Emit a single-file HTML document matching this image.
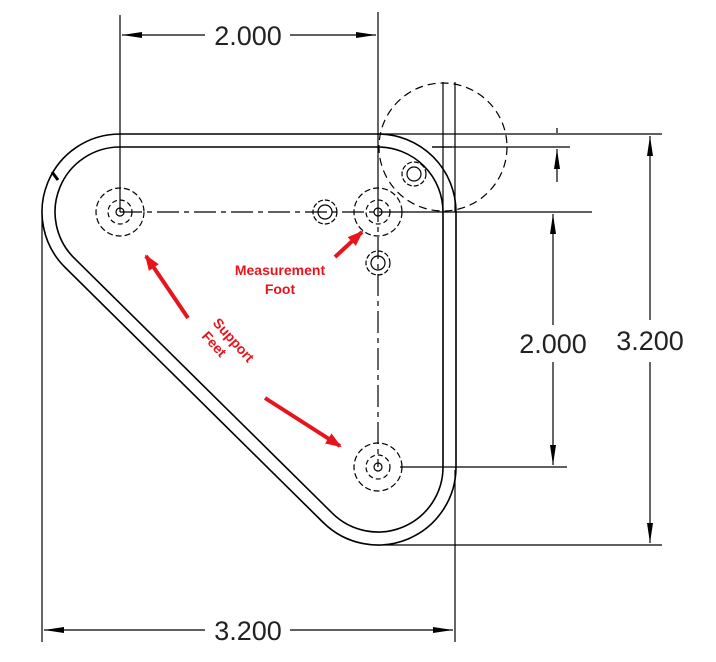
<!DOCTYPE html>
<html><head><style>body{margin:0;background:#fff}svg{display:block}</style></head><body>
<svg width="716" height="662" viewBox="0 0 716 662" xmlns="http://www.w3.org/2000/svg">
<defs>
<marker id="a" viewBox="0 0 20 8" refX="20" refY="4" markerWidth="20" markerHeight="8" markerUnits="userSpaceOnUse" orient="auto"><path d="M0,1 L20,4 L0,7 z" fill="#000"/></marker>
<marker id="r" viewBox="0 0 16 12" refX="14" refY="6" markerWidth="16" markerHeight="12" markerUnits="userSpaceOnUse" orient="auto"><path d="M0,0 L16,6 L0,12 z" fill="#e8141b"/></marker>
</defs>
<g fill="none" stroke="#000" stroke-width="1.6">
<!-- outer -->
<path d="M120,134 L378,134 A78,78 0 0 1 456,212 L456,467 A78,78 0 0 1 323.2,522.5 L65.2,267.5 A78,78 0 0 1 120,134 Z"/>
<!-- inner -->
<path d="M120,147 L378,147 A65,65 0 0 1 443,212 L443,467 A65,65 0 0 1 332.3,513.2 L74.3,258.2 A65,65 0 0 1 120,147 Z"/>
</g>
<g fill="none" stroke="#000" stroke-width="1.2">
<!-- extension lines -->
<line x1="120" y1="15" x2="120" y2="212"/>
<line x1="378" y1="12" x2="378" y2="200"/>
<line x1="42" y1="215" x2="42" y2="642"/>
<line x1="455" y1="470" x2="455" y2="642"/>
<line x1="378" y1="134" x2="662" y2="134"/>
<line x1="385" y1="545" x2="662" y2="545"/>
<line x1="432" y1="147" x2="570" y2="147"/>
<line x1="400" y1="212" x2="592" y2="212"/>
<line x1="400" y1="467" x2="567" y2="467"/>
<!-- dims -->
<line x1="205" y1="35" x2="122" y2="35" marker-end="url(#a)"/>
<line x1="290" y1="35" x2="376" y2="35" marker-end="url(#a)"/>
<line x1="205" y1="630" x2="44" y2="630" marker-end="url(#a)"/>
<line x1="290" y1="630" x2="453" y2="630" marker-end="url(#a)"/>
<line x1="650" y1="320" x2="650" y2="136" marker-end="url(#a)"/>
<line x1="650" y1="362" x2="650" y2="543" marker-end="url(#a)"/>
<line x1="553" y1="325" x2="553" y2="214" marker-end="url(#a)"/>
<line x1="553" y1="362" x2="553" y2="465" marker-end="url(#a)"/>
<line x1="557" y1="182" x2="557" y2="149" marker-end="url(#a)"/>
<line x1="557" y1="128" x2="557" y2="133"/>
<!-- centerlines -->
<line x1="120" y1="212" x2="400" y2="212" stroke-dasharray="22,5,5,5"/>
<line x1="378" y1="200" x2="378" y2="467" stroke-dasharray="22,5,5,5"/>
<line x1="443" y1="82" x2="443" y2="212"/>
<line x1="455" y1="82" x2="455" y2="212"/>
<line x1="432" y1="147" x2="452" y2="147"/>
<!-- big dashed circle -->
<circle cx="443" cy="147" r="64" stroke-dasharray="8,5"/>
<!-- feet -->
<circle cx="120" cy="212" r="24" stroke-dasharray="6,3"/>
<circle cx="120" cy="212" r="12" stroke-dasharray="5,3"/>
<circle cx="120" cy="212" r="4"/>
<circle cx="378" cy="212" r="24" stroke-dasharray="6,3"/>
<circle cx="378" cy="212" r="12" stroke-dasharray="5,3"/>
<circle cx="378" cy="212" r="4"/>
<circle cx="378" cy="467" r="24" stroke-dasharray="6,3"/>
<circle cx="378" cy="467" r="12" stroke-dasharray="5,3"/>
<circle cx="378" cy="467" r="4"/>
<circle cx="325" cy="212" r="12" stroke-dasharray="5,2"/>
<circle cx="325" cy="212" r="7"/>
<circle cx="378" cy="263" r="12" stroke-dasharray="5,2"/>
<circle cx="378" cy="263" r="7"/>
<circle cx="414" cy="174" r="12" stroke-dasharray="5,2"/>
<circle cx="414" cy="174" r="7"/>
<line x1="52" y1="172" x2="58" y2="180" stroke-width="3"/>
</g>
<g font-family="Liberation Sans, sans-serif" font-size="27" fill="#222" text-anchor="middle">
<text x="248" y="45">2.000</text>
<text x="248" y="640">3.200</text>
<text x="553" y="353">2.000</text>
<text x="650" y="350">3.200</text>
</g>
<g stroke="#e8141b" stroke-width="4" fill="none">
<line x1="188" y1="318" x2="146" y2="256" marker-end="url(#r)"/>
<line x1="265" y1="398" x2="340" y2="446" marker-end="url(#r)"/>
<line x1="335" y1="257" x2="362" y2="232" marker-end="url(#r)"/>
</g>
<g font-family="Liberation Sans, sans-serif" font-size="14" font-weight="bold" fill="#e8141b" text-anchor="middle">
<text x="280" y="275">Measurement</text>
<text x="280" y="294">Foot</text>
<g transform="translate(227,346) rotate(48)"><text x="0" y="-4">Support</text><text x="-10" y="13">Feet</text></g>
</g>
</svg>
</body></html>
